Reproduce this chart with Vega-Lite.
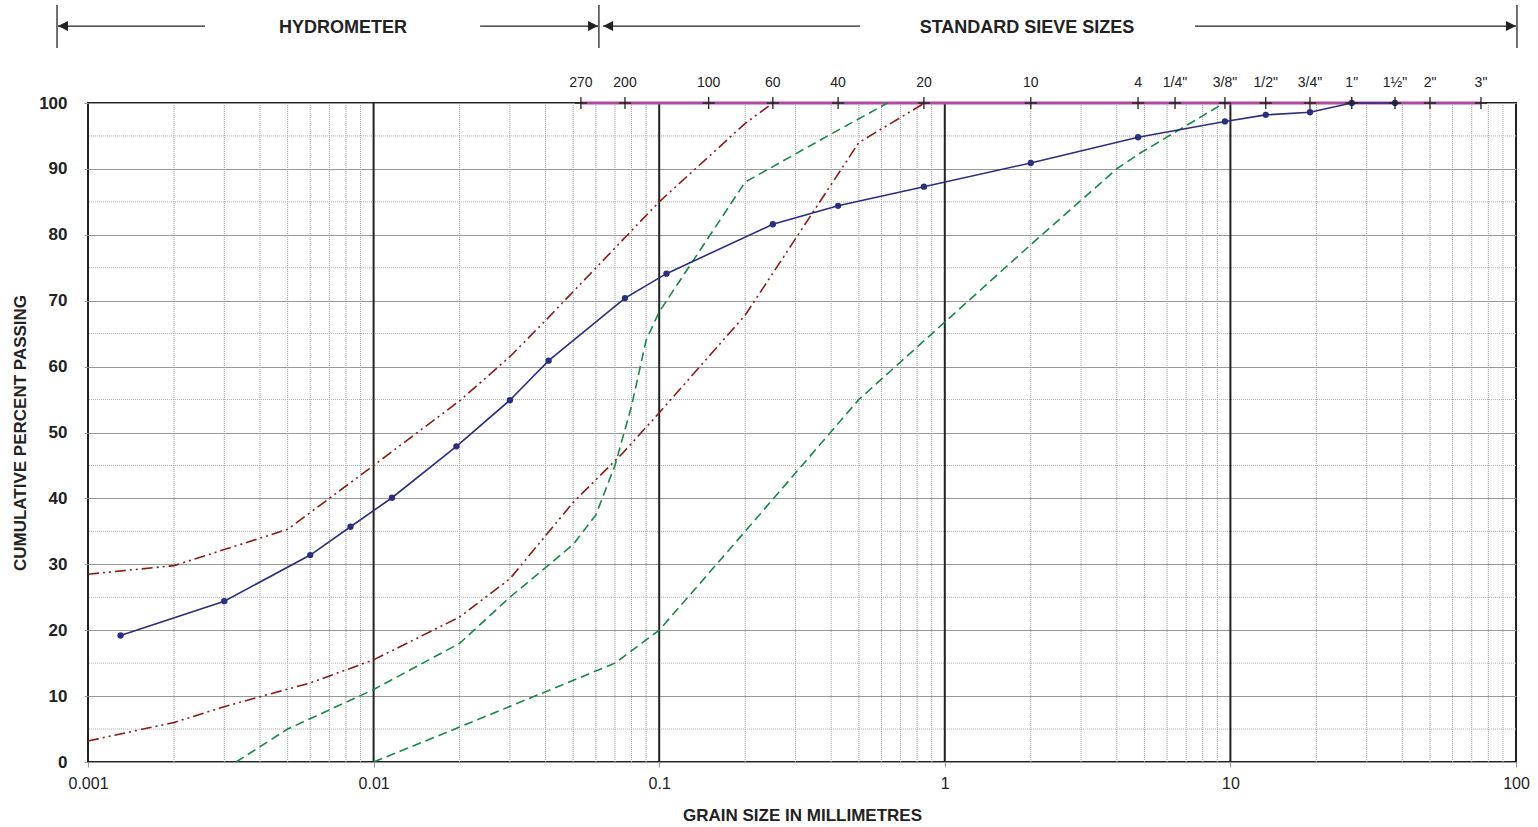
{
  "$schema": "https://vega.github.io/schema/vega-lite/v6.json",
  "autosize": {"type": "none"},
  "width": 1428,
  "height": 659,
  "padding": {"left": 88, "top": 103, "right": 22, "bottom": 65},
  "background": "white",
  "config": {
    "font": "Liberation Sans",
    "view": {"stroke": "#222222", "strokeWidth": 2},
    "axis": {"labelFont": "Liberation Sans", "titleFont": "Liberation Sans", "labelColor": "#222222", "titleColor": "#222222"}
  },
  "datasets": {
    "sample": [
      {"size": 0.0013, "pct": 19.2}, {"size": 0.003, "pct": 24.4}, {"size": 0.006, "pct": 31.4},
      {"size": 0.0083, "pct": 35.7}, {"size": 0.0116, "pct": 40.1}, {"size": 0.0195, "pct": 47.9},
      {"size": 0.03, "pct": 54.9}, {"size": 0.041, "pct": 60.9}, {"size": 0.0759, "pct": 70.4},
      {"size": 0.106, "pct": 74.1}, {"size": 0.25, "pct": 81.6}, {"size": 0.423, "pct": 84.4},
      {"size": 0.845, "pct": 87.3}, {"size": 2.0, "pct": 90.9}, {"size": 4.75, "pct": 94.8},
      {"size": 9.57, "pct": 97.2}, {"size": 13.3, "pct": 98.2}, {"size": 19.0, "pct": 98.6},
      {"size": 26.6, "pct": 100}, {"size": 37.7, "pct": 100}
    ],
    "envelope": [
      {"curve": "red upper", "size": 0.001, "pct": 28.5}, {"curve": "red upper", "size": 0.002, "pct": 29.8},
      {"curve": "red upper", "size": 0.005, "pct": 35.3}, {"curve": "red upper", "size": 0.01, "pct": 45},
      {"curve": "red upper", "size": 0.02, "pct": 54.8}, {"curve": "red upper", "size": 0.03, "pct": 61.5},
      {"curve": "red upper", "size": 0.04, "pct": 67}, {"curve": "red upper", "size": 0.1, "pct": 85},
      {"curve": "red upper", "size": 0.2, "pct": 96.9}, {"curve": "red upper", "size": 0.25, "pct": 100},
      {"curve": "red lower", "size": 0.001, "pct": 3.2}, {"curve": "red lower", "size": 0.002, "pct": 6},
      {"curve": "red lower", "size": 0.003, "pct": 8.4}, {"curve": "red lower", "size": 0.006, "pct": 12},
      {"curve": "red lower", "size": 0.01, "pct": 15.5}, {"curve": "red lower", "size": 0.02, "pct": 22},
      {"curve": "red lower", "size": 0.03, "pct": 27.8}, {"curve": "red lower", "size": 0.05, "pct": 39.4},
      {"curve": "red lower", "size": 0.075, "pct": 47}, {"curve": "red lower", "size": 0.1, "pct": 53},
      {"curve": "red lower", "size": 0.2, "pct": 67.8}, {"curve": "red lower", "size": 0.5, "pct": 94},
      {"curve": "red lower", "size": 0.85, "pct": 100},
      {"curve": "green upper", "size": 0.0033, "pct": 0}, {"curve": "green upper", "size": 0.005, "pct": 5},
      {"curve": "green upper", "size": 0.01, "pct": 11}, {"curve": "green upper", "size": 0.02, "pct": 18},
      {"curve": "green upper", "size": 0.03, "pct": 25}, {"curve": "green upper", "size": 0.05, "pct": 33},
      {"curve": "green upper", "size": 0.06, "pct": 37.5}, {"curve": "green upper", "size": 0.07, "pct": 45},
      {"curve": "green upper", "size": 0.08, "pct": 54}, {"curve": "green upper", "size": 0.09, "pct": 64},
      {"curve": "green upper", "size": 0.1, "pct": 68.3}, {"curve": "green upper", "size": 0.2, "pct": 88},
      {"curve": "green upper", "size": 0.4, "pct": 95.3}, {"curve": "green upper", "size": 0.63, "pct": 100},
      {"curve": "green lower", "size": 0.01, "pct": 0}, {"curve": "green lower", "size": 0.02, "pct": 5.3},
      {"curve": "green lower", "size": 0.07, "pct": 15}, {"curve": "green lower", "size": 0.1, "pct": 20},
      {"curve": "green lower", "size": 0.2, "pct": 35}, {"curve": "green lower", "size": 0.5, "pct": 55},
      {"curve": "green lower", "size": 2, "pct": 78.5}, {"curve": "green lower", "size": 4, "pct": 90},
      {"curve": "green lower", "size": 4.75, "pct": 92.2}, {"curve": "green lower", "size": 9.5, "pct": 100}
    ],
    "sieves": [
      {"size": 0.0532, "label": "270"}, {"size": 0.0759, "label": "200"}, {"size": 0.149, "label": "100"},
      {"size": 0.25, "label": "60"}, {"size": 0.423, "label": "40"}, {"size": 0.845, "label": "20"},
      {"size": 2.0, "label": "10"}, {"size": 4.75, "label": "4"}, {"size": 6.4, "label": "1/4\""},
      {"size": 9.57, "label": "3/8\""}, {"size": 13.3, "label": "1/2\""}, {"size": 19.0, "label": "3/4\""},
      {"size": 26.6, "label": "1\""}, {"size": 37.7, "label": "1½\""}, {"size": 50.0, "label": "2\""},
      {"size": 75.4, "label": "3\""}
    ],
    "minorX": [
      {"v": 0.002}, {"v": 0.003}, {"v": 0.004}, {"v": 0.005}, {"v": 0.006}, {"v": 0.007}, {"v": 0.008}, {"v": 0.009},
      {"v": 0.02}, {"v": 0.03}, {"v": 0.04}, {"v": 0.05}, {"v": 0.06}, {"v": 0.07}, {"v": 0.08}, {"v": 0.09},
      {"v": 0.2}, {"v": 0.3}, {"v": 0.4}, {"v": 0.5}, {"v": 0.6}, {"v": 0.7}, {"v": 0.8}, {"v": 0.9},
      {"v": 2}, {"v": 3}, {"v": 4}, {"v": 5}, {"v": 6}, {"v": 7}, {"v": 8}, {"v": 9},
      {"v": 20}, {"v": 30}, {"v": 40}, {"v": 50}, {"v": 60}, {"v": 70}, {"v": 80}, {"v": 90}
    ],
    "decades": [{"v": 0.01}, {"v": 0.1}, {"v": 1}, {"v": 10}],
    "halfY": [{"v": 5}, {"v": 15}, {"v": 25}, {"v": 35}, {"v": 45}, {"v": 55}, {"v": 65}, {"v": 75}, {"v": 85}, {"v": 95}],
    "sieveRange": [{"size": 0.0532, "pct": 100}, {"size": 75.4, "pct": 100}],
    "hdrLines": [
      {"x1": 0.000785, "x2": 0.00257}, {"x1": 0.0236, "x2": 0.0611},
      {"x1": 0.0636, "x2": 0.505}, {"x1": 7.52, "x2": 100}
    ],
    "hdrBars": [{"x": 0.000779}, {"x": 0.0615}, {"x": 100.8}],
    "hdrLeftArrows": [{"x": 0.000785}, {"x": 0.0636}],
    "hdrRightArrows": [{"x": 0.0611}, {"x": 100}],
    "hdrText": [{"x": 0.00782, "t": "HYDROMETER"}, {"x": 1.94, "t": "STANDARD SIEVE SIZES"}]
  },
  "layer": [
    {
      "data": {"name": "minorX"},
      "mark": {"type": "rule", "stroke": "#a0a0a0", "strokeWidth": 1, "strokeDash": [1, 1]},
      "encoding": {
        "x": {"field": "v", "type": "quantitative", "scale": {"type": "log", "domain": [0.001, 100]},
          "axis": {"values": [0.001, 0.01, 0.1, 1, 10, 100], "format": "~g", "grid": false, "domain": false,
            "labelFlush": false, "tickSize": 5, "tickColor": "#999999", "labelFontSize": 16, "labelPadding": 8,
            "title": "GRAIN SIZE IN MILLIMETRES", "titleFontSize": 17, "titleFontWeight": "bold", "titlePadding": 16}}
      }
    },
    {
      "data": {"name": "halfY"},
      "mark": {"type": "rule", "stroke": "#b0b0b0", "strokeWidth": 1, "strokeDash": [1, 1]},
      "encoding": {
        "y": {"field": "v", "type": "quantitative", "scale": {"domain": [0, 100]},
          "axis": {"values": [0, 10, 20, 30, 40, 50, 60, 70, 80, 90, 100], "grid": true, "gridColor": "#999999",
            "gridWidth": 1, "domain": false, "tickSize": 4, "tickColor": "#999999", "labelFontSize": 17,
            "labelFontWeight": "bold", "labelPadding": 17, "labelFlush": false, "title": "CUMULATIVE PERCENT PASSING",
            "titleFontSize": 17, "titleFontWeight": "bold", "titlePadding": 9}}
      }
    },
    {
      "data": {"name": "decades"},
      "mark": {"type": "rule", "stroke": "#222222", "strokeWidth": 2},
      "encoding": {"x": {"field": "v", "type": "quantitative"}}
    },
    {
      "data": {"name": "sieveRange"},
      "mark": {"type": "line", "stroke": "#b04a9c", "strokeWidth": 3},
      "encoding": {"x": {"field": "size", "type": "quantitative"}, "y": {"field": "pct", "type": "quantitative"}}
    },
    {
      "data": {"name": "envelope"},
      "transform": [{"filter": "indexof(datum.curve, 'red') === 0"}],
      "mark": {"type": "line", "stroke": "#8b1a1a", "strokeWidth": 1.6, "strokeDash": [11, 4, 2, 4, 2, 4]},
      "encoding": {"x": {"field": "size", "type": "quantitative"}, "y": {"field": "pct", "type": "quantitative"}, "detail": {"field": "curve"}}
    },
    {
      "data": {"name": "envelope"},
      "transform": [{"filter": "indexof(datum.curve, 'green') === 0"}],
      "mark": {"type": "line", "stroke": "#15894a", "strokeWidth": 1.6, "strokeDash": [9, 5]},
      "encoding": {"x": {"field": "size", "type": "quantitative"}, "y": {"field": "pct", "type": "quantitative"}, "detail": {"field": "curve"}}
    },
    {
      "data": {"name": "sample"},
      "mark": {"type": "line", "stroke": "#2b2e7e", "strokeWidth": 1.6},
      "encoding": {"x": {"field": "size", "type": "quantitative"}, "y": {"field": "pct", "type": "quantitative"}}
    },
    {
      "data": {"name": "sample"},
      "mark": {"type": "point", "shape": "circle", "filled": true, "fill": "#2b2e7e", "size": 40, "opacity": 1},
      "encoding": {"x": {"field": "size", "type": "quantitative"}, "y": {"field": "pct", "type": "quantitative"}}
    },
    {
      "data": {"name": "sieves"},
      "mark": {"type": "point", "shape": "M0,-1V1M-1,0H1", "filled": false, "stroke": "#222222", "strokeWidth": 1.3, "size": 150, "opacity": 1},
      "encoding": {"x": {"field": "size", "type": "quantitative"}, "y": {"datum": 100}}
    },
    {
      "data": {"name": "sieves"},
      "mark": {"type": "text", "fontSize": 14, "color": "#222222", "baseline": "middle", "dy": -20},
      "encoding": {"x": {"field": "size", "type": "quantitative"}, "y": {"datum": 100}, "text": {"field": "label"}}
    },
    {
      "data": {"name": "hdrLines"},
      "mark": {"type": "rule", "stroke": "#222222", "strokeWidth": 1.3},
      "encoding": {"x": {"field": "x1", "type": "quantitative"}, "x2": {"field": "x2"}, "y": {"datum": 111.68}}
    },
    {
      "data": {"name": "hdrBars"},
      "mark": {"type": "rule", "stroke": "#222222", "strokeWidth": 1.3},
      "encoding": {"x": {"field": "x", "type": "quantitative"}, "y": {"datum": 114.87}, "y2": {"datum": 108.35}}
    },
    {
      "data": {"name": "hdrLeftArrows"},
      "mark": {"type": "point", "shape": "M0,0L2,-1L2,1Z", "filled": true, "fill": "#222222", "size": 100, "opacity": 1},
      "encoding": {"x": {"field": "x", "type": "quantitative"}, "y": {"datum": 111.68}}
    },
    {
      "data": {"name": "hdrRightArrows"},
      "mark": {"type": "point", "shape": "M0,0L-2,-1L-2,1Z", "filled": true, "fill": "#222222", "size": 100, "opacity": 1},
      "encoding": {"x": {"field": "x", "type": "quantitative"}, "y": {"datum": 111.68}}
    },
    {
      "data": {"name": "hdrText"},
      "mark": {"type": "text", "fontSize": 18, "fontWeight": "bold", "color": "#222222", "baseline": "middle", "dy": 2},
      "encoding": {"x": {"field": "x", "type": "quantitative"}, "y": {"datum": 111.68}, "text": {"field": "t"}}
    }
  ]
}
